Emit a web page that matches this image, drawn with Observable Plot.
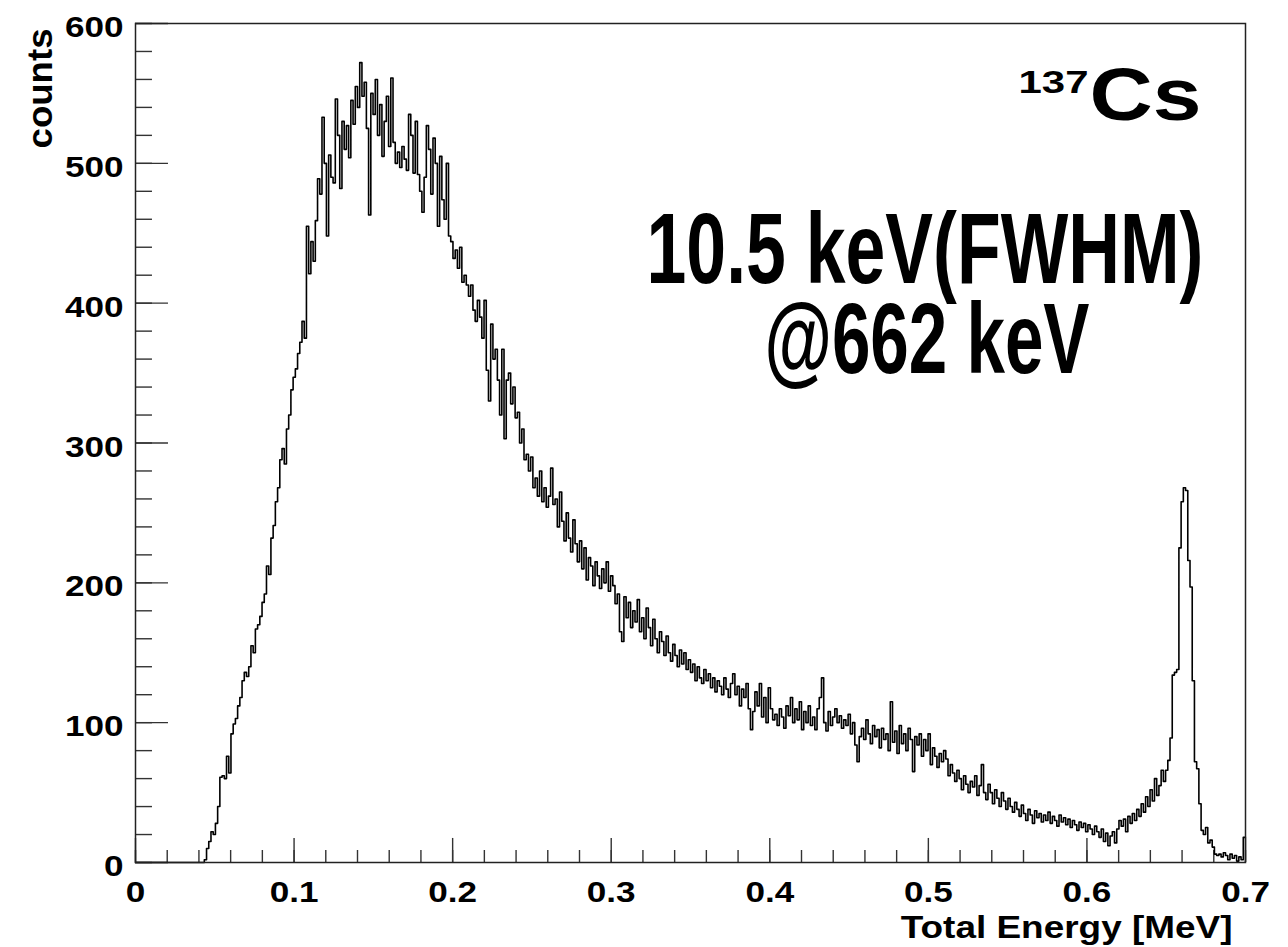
<!DOCTYPE html>
<html>
<head>
<meta charset="utf-8">
<script src="https://cdn.jsdelivr.net/npm/d3@7"></script>
<script src="https://cdn.jsdelivr.net/npm/@observablehq/plot@0.6"></script>
<style>
  html, body { margin: 0; padding: 0; background: #fff; }
  #chart { width: 1288px; height: 947px; }
</style>
</head>
<body>
<div id="chart"></div>
<script>
// ---- data: 137Cs total-energy spectrum, 500 bins from 0 to 0.7 MeV ----
const energyRange = [0, 0.7];
const counts = [
  0,0,0,0,0,0,0,0,0,0,0,0,0,0,0,0,0,0,0,0,0,0,0,0,0,
  0,0,0,0,0,0,2,10,15,22,20,28,40,61,62,60,76,64,92,99,103,112,118,130,136,
  133,140,155,150,167,170,176,186,192,212,206,232,241,258,268,288,296,285,310,320,338,347,353,364,372,
  387,375,455,421,444,430,459,489,478,533,500,448,506,490,486,546,520,482,530,510,527,504,545,528,555,
  540,572,548,558,525,463,550,535,560,520,542,505,530,548,512,561,515,500,508,497,512,503,495,535,520,
  493,530,492,480,465,490,527,510,478,518,500,455,505,474,460,500,448,444,432,438,425,440,415,420,413,
  405,413,395,387,402,390,375,402,352,330,385,360,367,345,320,367,303,345,350,328,340,318,322,300,310,
  288,292,280,290,268,275,262,280,258,268,254,262,282,256,260,240,265,244,230,250,232,222,245,228,215,
  230,210,225,202,218,212,198,215,205,196,210,200,215,194,205,198,185,192,165,158,190,175,186,168,180,
  172,188,165,175,160,182,168,155,174,160,150,165,158,148,162,150,144,156,148,140,152,142,150,138,145,
  136,142,130,140,132,128,138,130,135,125,132,122,130,126,120,132,124,118,128,135,120,126,112,124,118,
  128,110,95,108,122,112,128,104,118,100,125,110,102,106,98,110,104,96,112,105,118,100,110,102,115,
  95,108,100,112,98,104,95,110,118,132,100,94,108,98,104,110,100,105,96,102,98,106,92,100,84,
  72,90,96,88,102,92,85,98,90,95,82,96,88,92,80,115,86,94,78,98,85,92,80,96,88,
  65,90,84,92,76,88,80,92,70,82,76,68,78,72,80,74,62,70,64,58,66,60,52,62,56,
  50,58,54,62,48,55,70,50,45,56,50,42,52,46,40,50,44,38,46,40,36,43,38,33,41,
  35,30,38,34,28,37,32,35,29,34,30,36,28,33,30,26,34,29,32,27,31,25,30,27,23,
  29,25,28,22,27,24,20,26,22,18,24,15,21,12,19,22,14,24,30,26,31,22,33,28,35,
  30,38,33,42,36,47,40,52,44,60,48,55,66,58,66,73,89,134,136,138,225,258,268,266,216,
  197,130,72,67,42,23,20,25,14,16,11,6,5,6,4,7,5,2,6,3,5,1,4,2,18
];
const xMajorTicks = [0, 0.1, 0.2, 0.3, 0.4, 0.5, 0.6, 0.7];
const xTickLabels = ["0", "0.1", "0.2", "0.3", "0.4", "0.5", "0.6", "0.7"];
const yMajorTicks = [0, 100, 200, 300, 400, 500, 600];
const yTickLabels = ["0", "100", "200", "300", "400", "500", "600"];
const xTitle = "Total Energy [MeV]";
const yTitle = "counts";
const isotopeMass = "137";
const isotopeName = "Cs";
const resolutionLine1 = "10.5 keV(FWHM)";
const resolutionLine2 = "@662 keV";

// ---- derived tables ----
const binWidth = (energyRange[1] - energyRange[0]) / counts.length;
const steps = counts.map((c, i) => ({x: energyRange[0] + i * binWidth, y: c}));
steps.push({x: energyRange[1], y: counts[counts.length - 1]});
const xMinorTicks = d3.range(0, 36).map(i => i * 0.02);
const yMinorTicks = d3.range(0, 31).map(i => i * 20);
const xTicksTable = xMajorTicks.map((v, i) => ({v, label: xTickLabels[i]}));
const yTicksTable = yMajorTicks.map((v, i) => ({v, label: yTickLabels[i]}));

const FONT = "Liberation Sans, Arial, Helvetica, sans-serif";
const tickColor = "#333";

const chart = Plot.plot({
  width: 1288,
  height: 947,
  marginLeft: 135,
  marginRight: 43,
  marginTop: 23,
  marginBottom: 85,
  x: {domain: energyRange, axis: null},
  y: {domain: [0, 600], axis: null},
  style: {background: "white", overflow: "visible"},
  marks: [
    // inward ticks (ROOT style)
    Plot.ruleX(xMinorTicks, {x: d => d, y1: 0, y2: 8.6, stroke: tickColor, strokeWidth: 1.4}),
    Plot.ruleX(xMajorTicks, {x: d => d, y1: 0, y2: 17.2, stroke: tickColor, strokeWidth: 1.4}),
    Plot.ruleY(yMinorTicks, {y: d => d, x1: 0, x2: 0.0107, stroke: tickColor, strokeWidth: 1.4}),
    Plot.ruleY(yMajorTicks, {y: d => d, x1: 0, x2: 0.0208, stroke: tickColor, strokeWidth: 1.4}),
    // histogram
    Plot.line(steps, {x: "x", y: "y", curve: "step-after", stroke: "#000", strokeWidth: 1.6}),
    Plot.frame({stroke: "#222", strokeWidth: 1.5}),
    // tick labels
    Plot.text(xTicksTable, {x: "v", text: "label", frameAnchor: "bottom", lineAnchor: "top", dy: 18,
      fontFamily: FONT, fontWeight: "bold", fontSize: 30, fill: "#000"}),
    Plot.text(yTicksTable, {y: "v", text: "label", frameAnchor: "left", textAnchor: "end", dx: -12, dy: 4,
      fontFamily: FONT, fontWeight: "bold", fontSize: 30, fill: "#000"}),
    // axis titles
    Plot.text([xTitle], {text: d => d, frameAnchor: "bottom-right", textAnchor: "end", lineAnchor: "bottom",
      dx: -13, dy: 75, fontFamily: FONT, fontWeight: "bold", fontSize: 32, fill: "#000"}),
    Plot.text([yTitle], {text: d => d, frameAnchor: "top-left", textAnchor: "end", lineAnchor: "bottom", rotate: -90,
      dx: -84, dy: 5, fontFamily: FONT, fontWeight: "bold", fontSize: 36, fill: "#000"}),
    // annotations
    Plot.text([isotopeMass], {text: d => d, frameAnchor: "top-left", textAnchor: "start", lineAnchor: "bottom",
      dx: 1018 - 135, dy: 92 - 23, fontFamily: FONT, fontWeight: "bold", fontSize: 31, fill: "#000"}),
    Plot.text([isotopeName], {text: d => d, frameAnchor: "top-left", textAnchor: "start", lineAnchor: "bottom",
      dx: 1089 - 135, dy: 119 - 23, fontFamily: FONT, fontWeight: "bold", fontSize: 74, fill: "#000"}),
    Plot.text([resolutionLine1], {text: d => d, frameAnchor: "top-left", textAnchor: "start", lineAnchor: "bottom",
      dx: 646 - 135, dy: 282 - 23, fontFamily: FONT, fontWeight: "bold", fontSize: 100, fill: "#000"}),
    Plot.text([resolutionLine2], {text: d => d, frameAnchor: "top-left", textAnchor: "start", lineAnchor: "bottom",
      dx: 764 - 135, dy: 372 - 23, fontFamily: FONT, fontWeight: "bold", fontSize: 100, fill: "#000"})
  ]
});

document.getElementById("chart").append(chart);

// horizontal glyph stretching / condensing to match the reference type
const fixedWidths = new Map([
  [xTitle, 332], [yTitle, 120], [isotopeMass, 70], [isotopeName, 112],
  [resolutionLine1, 557], [resolutionLine2, 325]
]);
chart.querySelectorAll("text").forEach(t => {
  const s = t.textContent;
  const w = t.getComputedTextLength();
  if (!w) return;
  const target = fixedWidths.has(s) ? fixedWidths.get(s) : w * 1.17;
  const sx = target / w;
  const prev = t.getAttribute("transform") || "";
  t.setAttribute("transform", `${prev} scale(${sx.toFixed(4)},1)`);
});
</script>
</body>
</html>
